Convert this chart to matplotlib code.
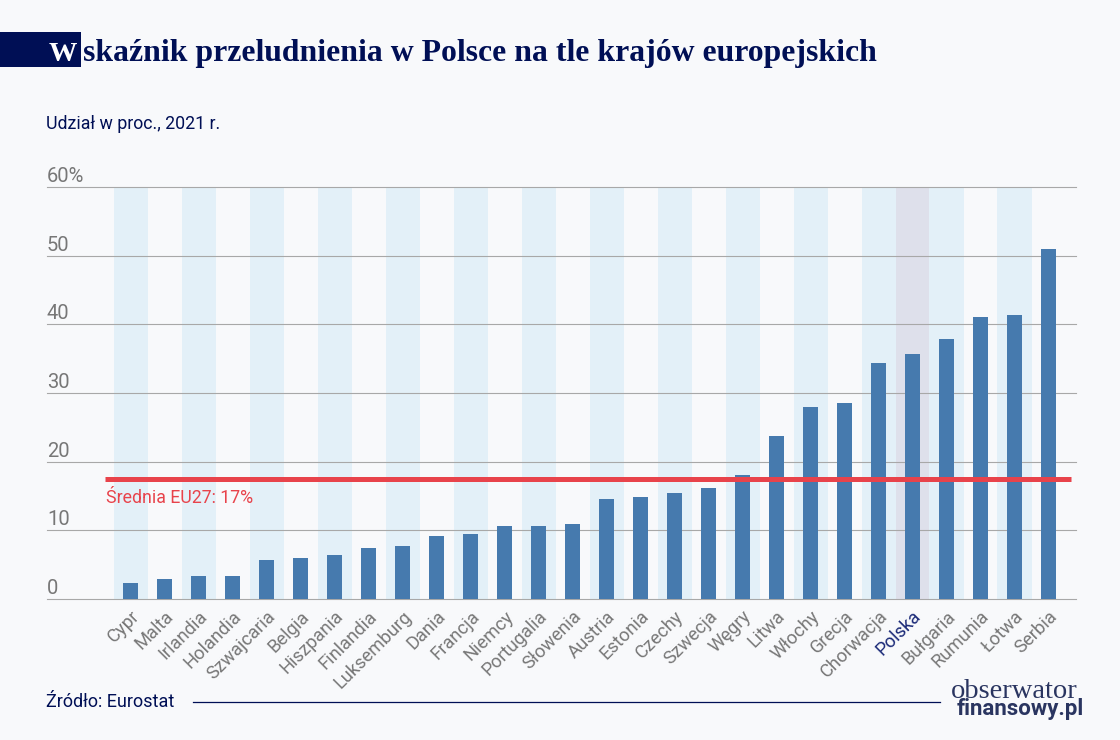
import matplotlib
matplotlib.use("Agg")
import matplotlib.pyplot as plt
from matplotlib.patches import Rectangle
from matplotlib.lines import Line2D
from matplotlib.transforms import ScaledTranslation

countries = ["Cypr","Malta","Irlandia","Holandia","Szwajcaria","Belgia","Hiszpania","Finlandia","Luksemburg","Dania","Francja","Niemcy","Portugalia","Słowenia","Austria","Estonia","Czechy","Szwecja","Węgry","Litwa","Włochy","Grecja","Chorwacja","Polska","Bułgaria","Rumunia","Łotwa","Serbia"]
values = [2.3,2.9,3.4,3.4,5.7,5.9,6.4,7.4,7.7,9.2,9.4,10.6,10.6,10.9,14.5,14.9,15.4,16.2,18.0,23.8,28.0,28.6,34.4,35.7,37.9,41.0,41.3,51.0]
y_ticks = [0,10,20,30,40,50,60]
y_labels = ["0","10","20","30","40","50","60%"]
eu_mean_line = 17.5
highlight = "Polska"

W, H = 1120, 740
BG = "#F8F9FB"; NAVY = "#000F55"; BLUE = "#467AAE"; GREY = "#777777"; GRID = "#A8A8A8"; RED = "#E8434B"
SANS = ["Roboto", "DejaVu Sans"]
SERIF = ["Liberation Serif", "DejaVu Serif"]
def fx(p): return p / W
def fy(p): return 1 - p / H

fig = plt.figure(figsize=(W/100, H/100), dpi=100, facecolor=BG)
L, R, T, B = 47, 1076, 187, 599
ax = fig.add_axes([fx(L), fy(B), (R-L)/W, (B-T)/H], facecolor="none")
step = (1048-130.5)/27
ax.set_xlim(-(130.5-L)/step, 27+(R-1048)/step)
ax.set_ylim(0, 60)

xs = list(range(len(countries)))
for x, c in zip(xs, countries):
    if c == highlight:
        ax.bar(x+0.02, 60, width=1.015, color="#DEE0EB", zorder=1)
    elif x % 2 == 0:
        ax.bar(x+0.02, 60, width=1.015, color="#E3F0F8", zorder=1)
for v in y_ticks:
    ax.axhline(v, color=GRID, lw=0.8, zorder=2, clip_on=False)
ax.bar(xs, values, width=15/step, color=BLUE, zorder=3)
ax.axhline(eu_mean_line, xmin=(105-L)/(R-L), xmax=(1071-L)/(R-L), color=RED, lw=3.6, zorder=4, solid_capstyle="butt")
ax.text((106-130.5)/step, 14.7, "Średnia EU27: 17%", color=RED, fontsize=12.8, family=SANS, va="center", ha="left", zorder=5)

for s in ax.spines.values():
    s.set_visible(False)
ax.set_yticks([])
ax.set_xticks(xs)
ax.set_xticklabels(countries, rotation=45, ha="right", va="top", rotation_mode="anchor", fontsize=13.2, family=SANS, color=GREY)
for lab, c in zip(ax.get_xticklabels(), countries):
    lab.set_transform(lab.get_transform() + ScaledTranslation(-5.5/72, 2.5/72, fig.dpi_scale_trans))
    if c == highlight:
        lab.set_color("#1B2A78")
ax.tick_params(axis="x", length=0, pad=6)

for v, s in zip(y_ticks, y_labels):
    ax.annotate(s, xy=(0, v), xycoords=("axes fraction", "data"), xytext=(0, 3.6), textcoords="offset points",
                fontsize=14.5, color=GREY, family=SANS, ha="left", va="baseline", annotation_clip=False)

fig.add_artist(Rectangle((0, fy(67)), fx(81), 35/H, transform=fig.transFigure, color=NAVY, lw=0))
fig.text(fx(49), fy(61), "W", color="white", fontsize=20.5, family=SERIF, weight="bold", va="baseline")
fig.text(fx(83), fy(61), "skaźnik przeludnienia w Polsce na tle krajów europejskich", color=NAVY, fontsize=22.9, family=SERIF, weight="bold", va="baseline")
fig.text(fx(46), fy(129), "Udział w proc., 2021 r.", color=NAVY, fontsize=12.8, family=SANS, va="baseline")
fig.text(fx(46), fy(707), "Źródło: Eurostat", color=NAVY, fontsize=13, family=SANS, va="baseline")
fig.add_artist(Line2D([fx(193), fx(940)], [fy(702), fy(702)], color=NAVY, lw=0.9, transform=fig.transFigure))
fig.text(fx(951), fy(698), "obserwator", color="#2A3560", fontsize=20.5, family=SERIF, va="baseline")
fig.text(fx(957), fy(715), "finansowy.pl", color="#2A3560", fontsize=16, family=SANS, weight="bold", va="baseline")

fig.savefig("out.png", dpi=100, facecolor=BG)
